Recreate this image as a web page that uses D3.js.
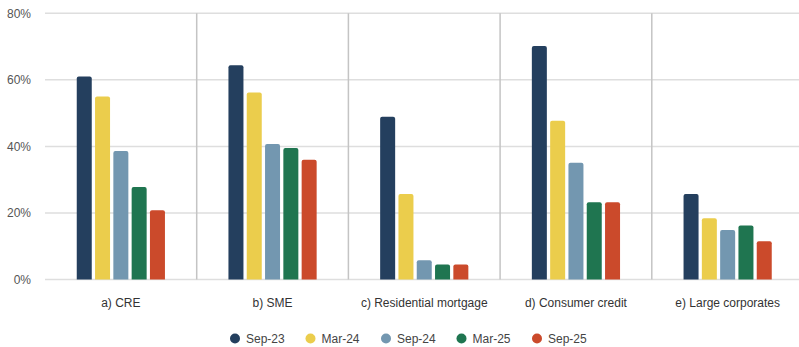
<!DOCTYPE html>
<html lang="en">
<head>
<meta charset="utf-8">
<script src="https://d3js.org/d3.v7.min.js"></script>
<style>
    body { margin: 0; background: #fff; }
    svg { display: block; font-family: "Liberation Sans", Arial, sans-serif; }
</style>
</head>
<body>
<svg id="chart" width="799" height="347"></svg>
<script>
// data
var categories = ["a) CRE", "b) SME", "c) Residential mortgage", "d) Consumer credit", "e) Large corporates"];
var periods = ["Sep-23", "Mar-24", "Sep-24", "Mar-25", "Sep-25"];
var sep23 = [61, 64.4, 48.9, 70.2, 25.7];
var mar24 = [55, 56.2, 25.7, 47.7, 18.4];
var sep24 = [38.6, 40.7, 5.8, 35.1, 14.9];
var mar25 = [27.8, 39.5, 4.5, 23.2, 16.2];
var sep25 = [20.8, 36.0, 4.5, 23.2, 11.5];
var yTicks = [0, 20, 40, 60, 80];
var colors = ["#243f5e", "#ebcd4c", "#7397b0", "#1f7550", "#cb4a2b"];

var series = [sep23, mar24, sep24, mar25, sep25];

var svg = d3.select("#chart");
var plotLeft = 45, plotRight = 803.5, plotTop = 13.3, plotBottom = 279.5;

var x = d3.scaleBand().domain(categories).range([plotLeft, plotRight]).padding(0);
var bw = x.bandwidth();
var x1 = d3.scaleBand().domain(periods)
    .range([bw / 2 - 44.1, bw / 2 + 44.1])
    .paddingInner(0.18).paddingOuter(0);
var y = d3.scaleLinear().domain([0, 80]).range([plotBottom, plotTop]);
var color = d3.scaleOrdinal().domain(periods).range(colors);

// horizontal gridlines
svg.append("g").selectAll("line")
    .data(yTicks)
    .enter().append("line")
    .attr("x1", plotLeft).attr("x2", 799)
    .attr("y1", d => y(d)).attr("y2", d => y(d))
    .attr("stroke", "#dedede").attr("stroke-width", 1.5);

// vertical separators between groups
svg.append("g").selectAll("line")
    .data(categories.slice(1))
    .enter().append("line")
    .attr("x1", d => x(d)).attr("x2", d => x(d))
    .attr("y1", plotTop).attr("y2", plotBottom)
    .attr("stroke", "#c4c4c4").attr("stroke-width", 1.5);

// y tick labels
svg.append("g").selectAll("text")
    .data(yTicks)
    .enter().append("text")
    .attr("x", 31).attr("y", d => y(d) + 4.5)
    .attr("text-anchor", "end")
    .attr("font-size", 12).attr("fill", "#555")
    .text(d => d + "%");

// bars
var rows = categories.map(function (c, i) {
    return { cat: c, vals: periods.map((p, j) => ({ period: p, value: series[j][i] })) };
});
var groups = svg.append("g").selectAll("g")
    .data(rows)
    .enter().append("g")
    .attr("transform", d => `translate(${x(d.cat)},0)`);
groups.selectAll("path")
    .data(d => d.vals)
    .enter().append("path")
    .attr("fill", d => color(d.period))
    .attr("d", function (d) {
        var x0 = x1(d.period), w = x1.bandwidth(), y0 = y(d.value), r = 2;
        return `M${x0},${plotBottom}V${y0 + r}Q${x0},${y0} ${x0 + r},${y0}H${x0 + w - r}Q${x0 + w},${y0} ${x0 + w},${y0 + r}V${plotBottom}Z`;
    });

// category labels
svg.append("g").selectAll("text")
    .data(categories)
    .enter().append("text")
    .attr("x", d => x(d) + bw / 2).attr("y", 307)
    .attr("text-anchor", "middle")
    .attr("font-size", 12).attr("fill", "#333")
    .text(d => d);

// legend
var legendX = d3.scalePoint().domain(periods).range([235, 537]);
var leg = svg.append("g").selectAll("g")
    .data(periods)
    .enter().append("g")
    .attr("transform", d => `translate(${legendX(d)},338.5)`);
leg.append("circle").attr("r", 5).attr("fill", d => color(d));
leg.append("text").attr("x", 11).attr("y", 4.3)
    .attr("font-size", 12).attr("fill", "#444")
    .text(d => d);
</script>
</body>
</html>
